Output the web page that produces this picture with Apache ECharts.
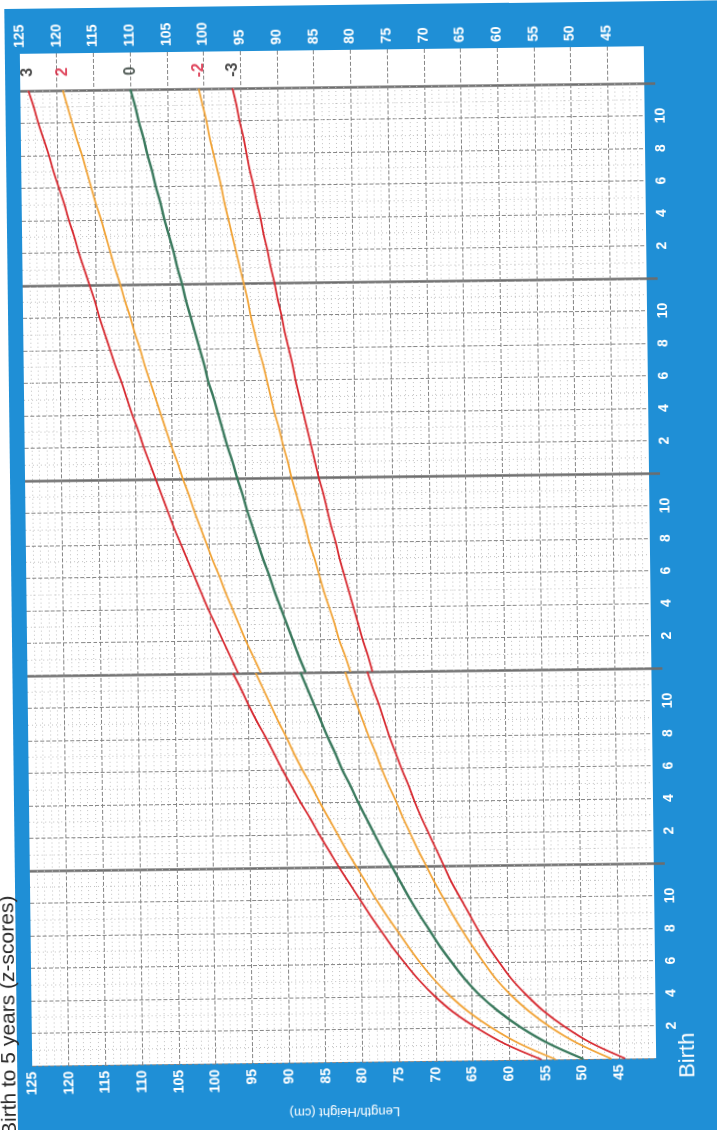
<!DOCTYPE html>
<html>
<head>
<meta charset="utf-8">
<script src="https://cdn.jsdelivr.net/npm/echarts@6/dist/echarts.min.js"></script>
<style>
html,body{margin:0;padding:0;background:#fff;width:717px;height:1130px;overflow:hidden;}
#scan{position:absolute;left:0;top:0;width:717px;height:1130px;transform:rotate(-0.7deg);transform-origin:338px 556px;}
#blue{position:absolute;left:11px;top:5px;width:820px;height:1260px;background:#1f8fd6;}
#chart{position:absolute;left:-20px;top:0;width:757px;height:1130px;}
</style>
</head>
<body>
<div id="scan">
<div id="blue"></div>
<div id="chart"></div>
</div>
<script>
// Age in months (24 appears twice: end of length curve, start of height curve)
const ageMonths = [0,1,2,3,4,5,6,7,8,9,10,11,12,13,14,15,16,17,18,19,20,21,22,23,24,
  24,25,26,27,28,29,30,31,32,33,34,35,36,37,38,39,40,41,42,43,44,45,46,47,48,49,50,51,52,53,54,55,56,57,58,59,60];
const lengthPoints = 25; // first 25 entries: recumbent length, rest: standing height

const sdPos3 = [55.6,60.6,64.4,67.6,70.1,72.2,74.0,75.7,77.2,78.7,80.1,81.5,82.9,84.2,85.5,86.7,88.0,89.2,90.4,91.5,92.6,93.8,94.9,95.9,97.0,
  96.3,97.3,98.3,99.3,100.3,101.2,102.1,103.0,103.9,104.8,105.6,106.4,107.2,108.0,108.8,109.5,110.3,111.0,111.7,112.5,113.2,113.9,114.6,115.2,115.9,116.6,117.3,117.9,118.6,119.2,119.9,120.6,121.2,121.9,122.6,123.2,123.9];
const sdPos2 = [53.7,58.6,62.4,65.5,68.0,70.1,71.9,73.5,75.0,76.5,77.9,79.2,80.5,81.8,83.0,84.2,85.4,86.5,87.7,88.8,89.8,90.9,91.9,92.9,93.9,
  93.2,94.2,95.2,96.1,97.0,97.9,98.7,99.6,100.4,101.2,102.0,102.7,103.5,104.2,105.0,105.7,106.4,107.1,107.8,108.5,109.1,109.8,110.4,111.1,111.7,112.4,113.0,113.6,114.2,114.9,115.5,116.1,116.7,117.4,118.0,118.6,119.2];
const sdMedian = [49.9,54.7,58.4,61.4,63.9,65.9,67.6,69.2,70.6,72.0,73.3,74.5,75.7,76.9,78.0,79.1,80.2,81.2,82.3,83.2,84.2,85.1,86.0,86.9,87.8,
  87.1,88.0,88.8,89.6,90.4,91.2,91.9,92.7,93.4,94.1,94.8,95.4,96.1,96.7,97.4,98.0,98.6,99.2,99.9,100.4,101.0,101.6,102.2,102.8,103.3,103.9,104.4,105.0,105.6,106.1,106.7,107.2,107.8,108.3,108.9,109.4,110.0];
const sdNeg2 = [46.1,50.8,54.4,57.3,59.7,61.7,63.3,64.8,66.2,67.5,68.7,69.9,71.0,72.1,73.1,74.1,75.0,76.0,76.9,77.7,78.6,79.4,80.2,81.0,81.7,
  81.0,81.7,82.5,83.1,83.8,84.5,85.1,85.7,86.4,86.9,87.5,88.1,88.7,89.2,89.8,90.3,90.9,91.4,91.9,92.4,93.0,93.5,94.0,94.4,94.9,95.4,95.9,96.4,96.9,97.4,97.8,98.3,98.8,99.3,99.7,100.2,100.7];
const sdNeg3 = [44.2,48.9,52.4,55.3,57.6,59.6,61.2,62.7,64.0,65.2,66.4,67.6,68.6,69.6,70.6,71.6,72.5,73.3,74.2,75.0,75.8,76.5,77.2,78.0,78.7,
  78.0,78.6,79.3,79.9,80.5,81.1,81.7,82.3,82.8,83.4,83.9,84.4,85.0,85.5,86.0,86.5,87.0,87.5,88.0,88.4,88.9,89.4,89.8,90.3,90.7,91.2,91.6,92.1,92.5,93.0,93.4,93.9,94.3,94.7,95.2,95.6,96.1];

const zNames = ['3','2','0','-2','-3'];
const yearMonths = [12,24,36,48,60];
const titleText = 'Birth to 5 years (z-scores)';
const axisTitle = 'Length/Height (cm)';

const zData = [sdPos3, sdPos2, sdMedian, sdNeg2, sdNeg3];
const lineColors = ['#d7282f','#f1a336','#3b7a5e','#f1a336','#d7282f'];
const lineWidths = [1.8,1.8,2.4,1.8,1.8];
const labelColors = ['#1e1e1e','#d81e3a','#2d3a33','#d81e3a','#1e1e1e'];

const FONT = 'Liberation Sans, Arial, Helvetica, sans-serif';
const series = [];
zData.forEach((vals, k) => {
  const pts = ageMonths.map((a, i) => [vals[i], a]);
  [pts.slice(0, lengthPoints), pts.slice(lengthPoints)].forEach(part => {
    series.push({
      type: 'line', xAxisIndex: 0, yAxisIndex: 0, data: part,
      showSymbol: false, smooth: 0.35, silent: true,
      lineStyle: {color: lineColors[k], width: lineWidths[k]}, z: k === 2 ? 4 : 3
    });
  });
});
series.push({
  type: 'scatter', xAxisIndex: 1, yAxisIndex: 2, symbolSize: 0, silent: true,
  data: zData.map((vals, k) => ({
    value: [vals[vals.length - 1], 0.5], name: zNames[k],
    label: {color: labelColors[k]}
  })),
  label: {show: true, position: 'inside', rotate: 90, formatter: p => p.name,
    fontSize: 16, fontWeight: 'bold', fontFamily: FONT}
});

const gridLine = {color: '#858585', width: 1, type: [4, 2]};
const dotLine = {color: '#c2c2c2', width: 1, type: [1, 3]};
const heightLabel = {rotate: 90, margin: 6, color: '#fff', fontSize: 14, fontWeight: 'bold',
  fontFamily: FONT, formatter: v => (v >= 45 ? String(v) : '')};

const option = {
  animation: false,
  textStyle: {fontFamily: FONT},
  grid: [
    {left: 46, right: 87, top: 87, bottom: 68, show: true, backgroundColor: '#fff', borderWidth: 0},
    {left: 46, right: 87, top: 50, height: 37, show: true, backgroundColor: '#fff', borderWidth: 0}
  ],
  xAxis: [
    {gridIndex: 0, type: 'value', min: 40, max: 125, inverse: true, interval: 5, position: 'bottom',
      axisLine: {show: false}, axisTick: {show: false}, axisLabel: heightLabel,
      splitLine: {show: true, showMinLine: false, showMaxLine: false, lineStyle: gridLine},
      minorTick: {show: false, splitNumber: 5},
      minorSplitLine: {show: true, lineStyle: dotLine},
      name: axisTitle, nameLocation: 'middle', nameGap: 43, nameRotate: 180,
      nameTextStyle: {color: '#fff', fontSize: 13, fontFamily: FONT}},
    {gridIndex: 1, type: 'value', min: 40, max: 125, inverse: true, interval: 5, position: 'top',
      axisLine: {show: false}, axisTick: {show: false}, axisLabel: heightLabel,
      splitLine: {show: true, showMinLine: false, showMaxLine: false, lineStyle: gridLine}}
  ],
  yAxis: [
    {gridIndex: 0, type: 'value', min: 0, max: 60, interval: 2, position: 'right',
      axisLine: {show: false}, axisTick: {show: false},
      axisLabel: {rotate: 90, margin: 9, color: '#fff', fontSize: 14, fontWeight: 'bold', fontFamily: FONT,
        showMinLabel: true, showMaxLabel: true,
        formatter: v => (v === 0 ? '{b|Birth}' : (v % 12 === 0 ? '' : String(v % 12))),
        rich: {b: {fontSize: 22, fontWeight: 'normal', color: '#fff', fontFamily: FONT, padding: [12, 0, 0, 5]}}},
      splitLine: {show: true, lineStyle: gridLine},
      minorTick: {show: false, splitNumber: 2},
      minorSplitLine: {show: true, lineStyle: dotLine}},
    {gridIndex: 0, type: 'value', min: 0, max: 60, interval: 12, position: 'right',
      axisLine: {show: false}, axisLabel: {show: false},
      axisTick: {show: true, length: 11, customValues: yearMonths, lineStyle: {color: '#6c6c6c', width: 2.5}},
      splitLine: {show: true, lineStyle: {color: '#6c6c6c', width: 2.5}}},
    {gridIndex: 1, type: 'value', min: 0, max: 1, show: false}
  ],
  graphic: [{
    type: 'text', x: 34, y: 1132, rotation: Math.PI / 2, silent: true,
    style: {text: titleText, fontSize: 21, fill: '#2a2a2a', fontFamily: FONT, align: 'left', verticalAlign: 'bottom'}
  }],
  series: series
};

const chart = echarts.init(document.getElementById('chart'), null, {renderer: 'canvas'});
chart.setOption(option);
</script>
</body>
</html>
